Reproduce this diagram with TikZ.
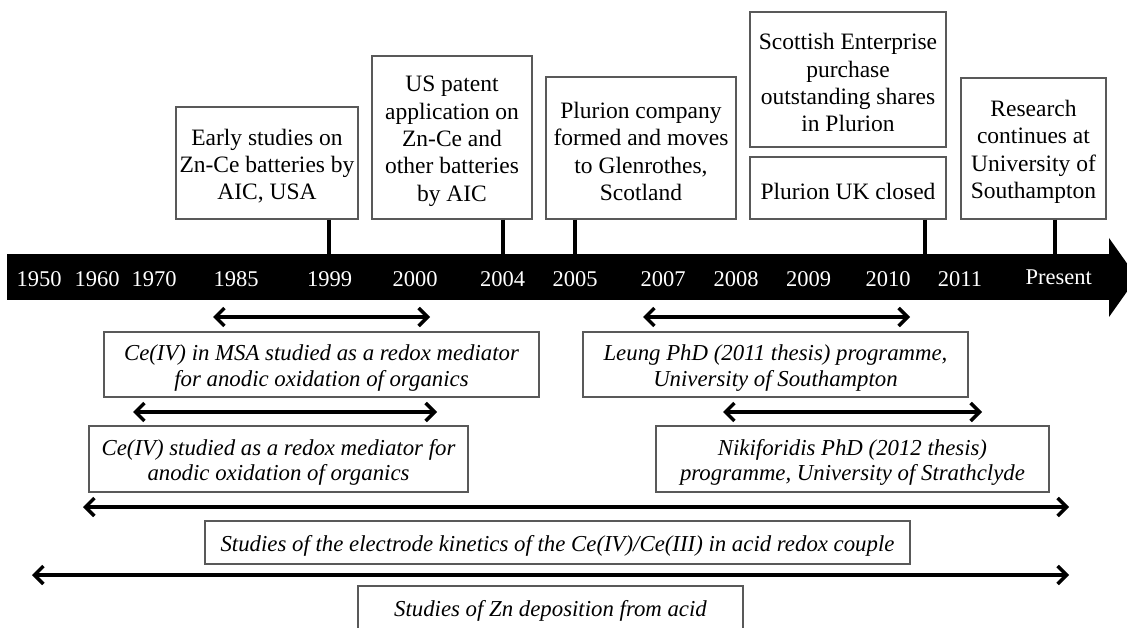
\documentclass[tikz,border=0pt]{standalone}
\usepackage{fontspec}
\setmainfont{Liberation Serif}
\usetikzlibrary{arrows.meta}
\newcommand\upstrut{\rule{0pt}{23pt}}
\begin{document}
\begin{tikzpicture}[x=1pt,y=-1pt,
  box/.style={draw=black!65, line width=1.3pt, align=center, inner sep=0pt,
    font=\fontsize{23.5}{27.3}\selectfont},
  ibox/.style={box, font=\fontsize{22.8}{25.5}\selectfont\itshape},
  stem/.style={line width=3.2pt},
  span/.style={line width=3.4pt,
    {Straight Barb[length=9pt,width=18pt]}-{Straight Barb[length=9pt,width=18pt]}},
  yr/.style={text=white, font=\fontsize{22.5}{27}\selectfont, inner sep=0pt, anchor=base}]
\useasboundingbox (0,0) rectangle (1127,628);
\clip (0,0) rectangle (1127,628);

% time bar
\node[fill=black, minimum width=1103pt, minimum height=46pt, inner sep=0pt] (bar) at (558.5,277) {};
\fill (1109,238) -- (1137,277.5) -- (1109,317) -- cycle;

% years
\node[yr] (y1950) at (39,287) {1950};
\node[yr] (y1960) at (97,287) {1960};
\node[yr] (y1970) at (154,287) {1970};
\node[yr] (y1985) at (236,287) {1985};
\node[yr] (y1999) at (329.5,287) {1999};
\node[yr] (y2000) at (415,287) {2000};
\node[yr] (y2004) at (502.7,287) {2004};
\node[yr] (y2005) at (575,287) {2005};
\node[yr] (y2007) at (663,287) {2007};
\node[yr] (y2008) at (736,287) {2008};
\node[yr] (y2009) at (808.6,287) {2009};
\node[yr] (y2010) at (888,287) {2010};
\node[yr] (y2011) at (960,287) {2011};
\node[yr] (ypres) at (1058.7,285) {Present};

% top boxes
\node[box, minimum width=182pt, minimum height=112pt] (T1) at (267,163)
  {\upstrut Early studies on\\Zn-Ce batteries by\\AIC, USA};
\node[box, minimum width=160pt, minimum height=163pt] (T2) at (452,137.5)
  {\upstrut US patent\\application on\\Zn-Ce and\\other batteries\\by AIC};
\node[box, minimum width=190pt, minimum height=142pt] (T3) at (641,148)
  {\upstrut Plurion company\\formed and moves\\to Glenrothes,\\Scotland};
\node[box, minimum width=196pt, minimum height=135pt] (T4) at (848,79.5)
  {\upstrut Scottish Enterprise\\purchase\\outstanding shares\\in Plurion};
\node[box, minimum width=196pt, minimum height=62pt] (T5) at (848,188)
  {\upstrut Plurion UK closed};
\node[box, minimum width=145pt, minimum height=141pt] (T6) at (1033.5,148.5)
  {\upstrut Research\\continues at\\University of\\Southampton};

% stems
\draw[stem] (T1.south -| 329,0) -- (bar.north -| 329,0);
\draw[stem] (T2.south -| 503,0) -- (bar.north -| 503,0);
\draw[stem] (T3.south -| 575,0) -- (bar.north -| 575,0);
\draw[stem] (T5.south -| 925,0) -- (bar.north -| 925,0);
\draw[stem] (T6.south -| 1055,0) -- (bar.north -| 1055,0);

% lower boxes
\node[ibox, minimum width=435pt, minimum height=65pt] (B1) at (321.5,364.5)
  {\upstrut Ce(IV) in MSA studied as a redox mediator\\for anodic oxidation of organics};
\node[ibox, minimum width=379pt, minimum height=66pt] (B2) at (278.5,459)
  {\upstrut Ce(IV) studied as a redox mediator for\\anodic oxidation of organics};
\node[ibox, minimum width=705pt, minimum height=43pt] (B3) at (557.5,542.5)
  {\upstrut Studies of the electrode kinetics of the Ce(IV)/Ce(III) in acid redox couple};
\node[ibox, minimum width=385pt, minimum height=43pt] (B4) at (550.5,607.5)
  {\upstrut Studies of Zn deposition from acid};
\node[ibox, minimum width=385pt, minimum height=65pt] (B5) at (775.5,364.5)
  {\upstrut Leung PhD (2011 thesis) programme,\\University of Southampton};
\node[ibox, minimum width=393pt, minimum height=66pt] (B6) at (852.5,459)
  {\upstrut Nikiforidis PhD (2012 thesis)\\programme, University of Strathclyde};

% spans
\coordinate (a1l) at (213,317); \coordinate (a1r) at (430,317);
\coordinate (a2l) at (133,412); \coordinate (a2r) at (437,412);
\coordinate (a3l) at (83,507);  \coordinate (a3r) at (1069,507);
\coordinate (a4l) at (32,575);  \coordinate (a4r) at (1069,575);
\coordinate (a5l) at (643,317); \coordinate (a5r) at (910,317);
\coordinate (a6l) at (723,412); \coordinate (a6r) at (982,412);
\draw[span] (a1l) -- (a1r);
\draw[span] (a2l) -- (a2r);
\draw[span] (a3l) -- (a3r);
\draw[span] (a4l) -- (a4r);
\draw[span] (a5l) -- (a5r);
\draw[span] (a6l) -- (a6r);
\end{tikzpicture}
\end{document}
